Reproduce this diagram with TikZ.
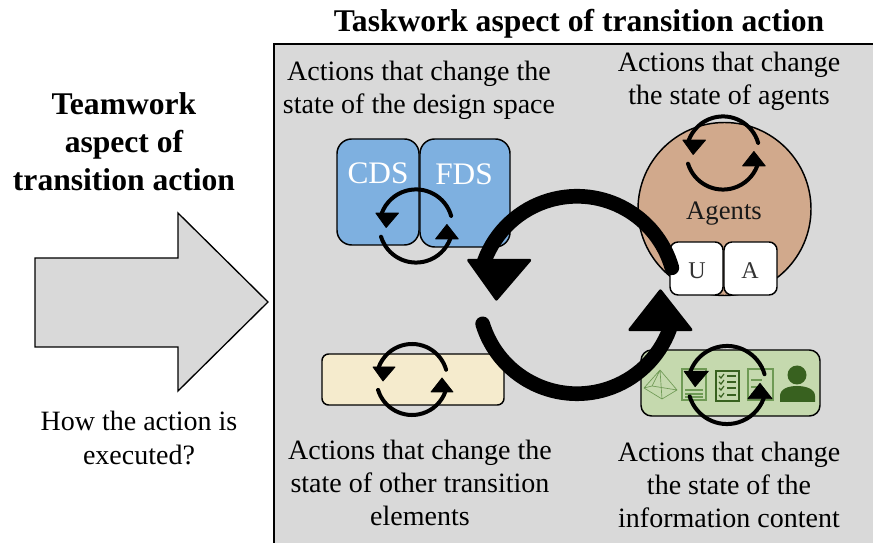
\documentclass[tikz,border=0pt]{standalone}
\usepackage{fontspec}
\setmainfont{Liberation Serif}
\usetikzlibrary{calc}

\definecolor{panel}{HTML}{D9D9D9}
\definecolor{dsblue}{HTML}{7EB0E0}
\definecolor{agent}{HTML}{D1A98C}
\definecolor{other}{HTML}{F5EBCD}
\definecolor{info}{HTML}{C5D9AE}
\definecolor{infodark}{HTML}{38611F}
\definecolor{infomid}{HTML}{6F9A55}

\tikzstyle{txt}   = [font=\fontsize{21}{25}\selectfont, align=center, inner sep=0pt]
\tikzstyle{bold}  = [font=\fontsize{23.7}{28.5}\selectfont\bfseries, align=center, inner sep=0pt]
\tikzstyle{block} = [draw, line width=1.1pt]
\tikzstyle{icon}  = [draw=infomid, line width=0.8pt]

% one turning cycle: centre, scale, line width
\newcommand{\turning}[3]{
    \begin{scope}[shift={(#1)}, scale=#2]
        \draw[line width=#3, line cap=round] (16:35.5) arc (16:160:35.5);
        \filldraw[line width=0.2*#3, line join=round] (-39,12.5) -- (-17,12.5) -- (-29,-1.5) -- cycle;
        \draw[line width=#3, line cap=round] (197:35.5) arc (197:340:35.5);
        \filldraw[line width=0.2*#3, line join=round] (19,-12.5) -- (41,-12.5) -- (30,1.5) -- cycle;
    \end{scope}
}

\begin{document}
\begin{tikzpicture}[x=0.75pt, y=0.75pt]
    \useasboundingbox (0,0) rectangle (873,542);

    \draw[fill=panel, line width=1.1pt] (274,-5) -- (274,498) -- (878,498) -- (878,-5) -- cycle;

    % teamwork side
    \draw[fill=panel, line width=1pt] (35,284) -- (178,284) -- (178,329) -- (268,240) -- (178,151) -- (178,195) -- (35,195) -- cycle;
    \node[bold] (team) at (124,400) {Teamwork\\aspect of\\transition action};
    \node[txt]  (how)  at (139,104) {How the action is\\executed?};

    % taskwork side
    \node[bold] (task) at (579,518) {Taskwork aspect of transition action};
    \node[txt]  (space) at (419,452) {Actions that change the\\state of the design space};
    \node[txt]  (state) at (729,461) {Actions that change\\the state of agents};
    \node[txt]  (other) at (420,59)  {Actions that change the\\state of other transition\\elements};
    \node[txt]  (cont)  at (729,57)  {Actions that change\\the state of the\\information content};

    % design space
    \draw[block, fill=dsblue, rounded corners=11pt] (337,297) rectangle (419,403);
    \draw[block, fill=dsblue, rounded corners=11pt] (420,295) rectangle (510,403);
    \node[txt, text=white, font=\fontsize{23.5}{25}\selectfont] (cds) at (378,369) {CDS};
    \node[txt, text=white, font=\fontsize{23.5}{25}\selectfont] (fds) at (464,368) {FDS};

    % agents
    \draw[fill=agent, line width=1.1pt] (724.5,333) circle (86.5);
    \node[txt, font=\fontsize{20}{25}\selectfont, text=black!90] (agents) at (724,328) {Agents};
    \draw[block, fill=white, rounded corners=6pt] (670,247) rectangle (723,300);
    \draw[block, fill=white, rounded corners=6pt] (724,247) rectangle (777,300);
    \node[txt, font=\fontsize{18}{20}\selectfont, text=black!80] (u) at (697,271) {U};
    \node[txt, font=\fontsize{18}{20}\selectfont, text=black!80] (a) at (750,271) {A};

    % other elements
    \draw[block, fill=other, rounded corners=5pt] (322,137) rectangle (504,188);

    % information content
    \draw[block, fill=info, rounded corners=8pt] (641,126) rectangle (820,192);
    \draw[icon, line width=0.5pt, line join=round] (660,172) -- (644,154) -- (662,143) -- (677,152) -- cycle (660,172) -- (662,143) (660,172) -- (652,156) -- (677,152) (652,156) -- (644,154);
    \draw[icon] (682,142) rectangle (706,173);
    \foreach \y in {152,148,145}
        \draw[icon] (685,\y) -- (703,\y);
    \draw[draw=infodark, line width=1.3pt] (716,141) rectangle (739,171);
    \foreach \y in {147,154,160,166} {
        \draw[draw=infodark, line width=0.9pt] (719,\y) -- (721,\y-2) -- (724,\y+2);
        \draw[draw=infodark, line width=0.9pt] (727,\y) -- (736,\y);
    }
    \draw[icon] (748,142) rectangle (773,173);
    \draw[icon] (751,162) -- (762,162) (751,155) -- (762,155) (751,148) -- (762,148);
    \fill[infodark] (780,140) -- (780,146) .. controls (780,153) and (788,156) .. (797,156) .. controls (806,156) and (815,153) .. (815,146) -- (815,140) -- cycle;
    \fill[infodark] (797,167) circle (9.5);

    % the four small cycles and the big one
    \turning{416,316}{1.03}{3pt}
    \turning{723,389}{1.03}{3pt}
    \turning{412,162.5}{1}{3pt}
    \turning{727,157}{1.1}{3pt}
    \turning{577,247}{2.78}{11pt}

\end{tikzpicture}
\end{document}
